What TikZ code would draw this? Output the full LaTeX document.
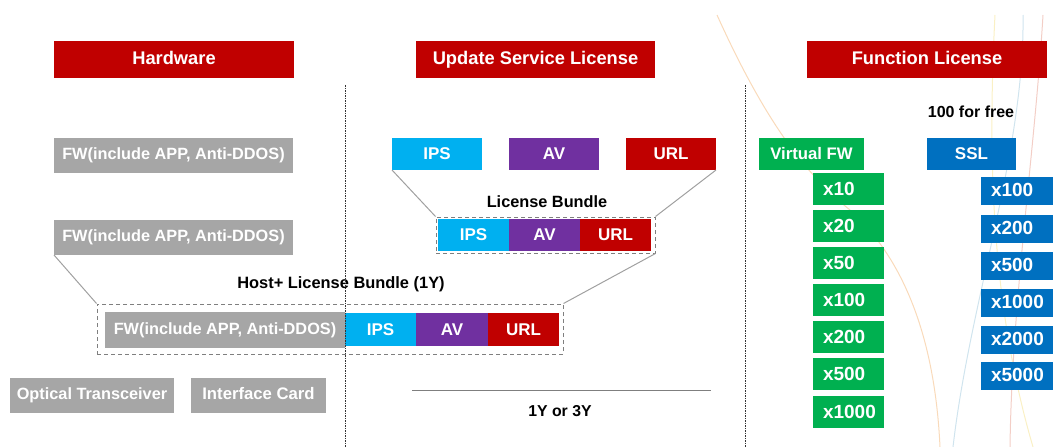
\documentclass[tikz,border=0pt]{standalone}
\usepackage{fontspec}
\setmainfont{Liberation Sans}
\definecolor{hdrred}{HTML}{C00000}
\definecolor{ipsc}{HTML}{00B0F0}
\definecolor{avc}{HTML}{7030A0}
\definecolor{urlc}{HTML}{C00000}
\definecolor{grn}{HTML}{00B050}
\definecolor{blu}{HTML}{0070C0}
\definecolor{gry}{HTML}{A6A6A6}
\definecolor{lnc}{HTML}{A0A0A0}
\definecolor{dshc}{HTML}{7F7F7F}
\newcommand{\fs}[1]{\bfseries\fontsize{#1}{#1}\selectfont}
\tikzset{
  cell/.style={inner sep=0pt, outer sep=0pt, text=white},
  hdr/.style={cell, fill=hdrred, minimum width=240pt, minimum height=37pt, font=\fs{18.3}, text height=13.2pt, text depth=3.8pt},
  fwbox/.style={cell, fill=gry, minimum height=35pt, font=\fs{16.3}, text height=12pt, text depth=3.5pt},
  svc/.style={cell, minimum width=90pt, minimum height=32pt, font=\fs{17}},
  svcs/.style={cell, minimum width=71pt, minimum height=32pt, font=\fs{17}},
  gcell/.style={cell, fill=grn, minimum height=32pt, inner xsep=10pt, text width=51pt, align=left, font=\fs{19}},
  bcell/.style={cell, fill=blu, minimum height=28pt, inner xsep=10pt, text width=52pt, align=left, font=\fs{19}, text height=11pt, text depth=0pt},
  lbl/.style={inner sep=0pt, text=black},
  conn/.style={draw=lnc, line width=1pt},
  dbox/.style={draw=dshc, line width=1pt, dash pattern=on 4pt off 3pt},
  vsep/.style={draw=black!80, line width=1pt, dash pattern=on 1.5pt off 1pt},
  deco/.style={line width=1pt}
}
\begin{document}
\begin{tikzpicture}[x=1pt, y=-1pt]
\useasboundingbox (0,0) rectangle (1053,447);
% faint background curves
\draw[deco, draw={rgb,255:red,249;green,218;blue,186}] (717,15) .. controls (760,110) and (800,170) .. (850,210) .. controls (905,260) and (935,340) .. (940,447);
\draw[deco, draw={rgb,255:red,250;green,240;blue,196}] (995,15) .. controls (988,150) and (990,300) .. (1033,447);
\draw[deco, draw={rgb,255:red,208;green,228;blue,238}] (1023,15) .. controls (1025,150) and (970,300) .. (953,447);
\draw[deco, draw={rgb,255:red,243;green,206;blue,198}] (1043,15) .. controls (1035,150) and (1012,300) .. (1010,447);

% headers
\node[hdr] (hw) at (174,59.5) {Hardware};
\node[hdr, minimum width=239pt] (usl) at (535.5,59.5) {Update Service License};
\node[hdr] (fl) at (927,59.5) {Function License};

% hardware column
\node[fwbox, minimum width=239pt] (fw1) at (173.5,155.5) {FW(include APP, Anti-DDOS)};
\node[fwbox, minimum width=239pt] (fw2) at (173.5,237.5) {FW(include APP, Anti-DDOS)};
\node[fwbox, minimum width=164pt, font=\fs{16.3}] (opt) at (92,395.5) {Optical Transceiver};
\node[fwbox, minimum width=135pt, font=\fs{16.7}] (ifc) at (258.5,395.5) {Interface Card};

% update service licenses
\node[svc, fill=ipsc] (ips1) at (437,154) {IPS};
\node[svc, fill=avc] (av1) at (554,154) {AV};
\node[svc, fill=urlc] (url1) at (671,154) {URL};

\node[lbl, font=\fs{16.3}] (lbt) at (547,202) {License Bundle};
\node[dbox, inner sep=0pt, minimum width=219pt, minimum height=36pt] (lb) at (545.5,235) {};
\node[svcs, fill=ipsc] (ips2) at (473.5,235) {IPS};
\node[svcs, fill=avc] (av2) at (544.5,235) {AV};
\node[svcs, fill=urlc] (url2) at (615.5,235) {URL};

% host bundle
\node[lbl, font=\fs{16.4}] (hbt) at (341,284) {Host+ License Bundle (1Y)};
\node[dbox, inner sep=0pt, minimum width=466pt, minimum height=50pt] (hb) at (330,329) {};
\node[fwbox, minimum width=240pt, minimum height=36pt] (fw3) at (225,330) {FW(include APP, Anti-DDOS)};
\node[svcs, fill=ipsc, minimum height=33pt] (ips3) at (380.5,329.5) {IPS};
\node[svcs, fill=avc, minimum width=72pt, minimum height=33pt] (av3) at (452,329.5) {AV};
\node[svcs, fill=urlc, minimum height=33pt] (url3) at (523.5,329.5) {URL};

% connectors
\draw[conn] (ips1.south west) -- (lb.north west);
\draw[conn] (url1.south east) -- (lb.north east);
\draw[conn] (lb.south east) -- (hb.north east);
\draw[conn] (fw2.south west) -- (hb.north west);

% term line
\coordinate (tl1) at (412,390);
\coordinate (tl2) at (711,390);
\draw[draw=dshc, line width=1pt] (tl1) -- (tl2);
\node[lbl, font=\fs{15.8}] (term) at (560,411) {1Y or 3Y};

% function licenses
\node[lbl, font=\fs{16}] (free) at (971,112) {100 for free};
\node[cell, fill=grn, minimum width=105pt, minimum height=32pt, font=\fs{16.7}] (vfw) at (811.5,154) {Virtual FW};
\node[cell, fill=blu, minimum width=89pt, minimum height=32pt, font=\fs{17}] (ssl) at (971.5,154) {SSL};

\node[gcell] (g1) at (848.5,189) {x10};
\node[gcell] (g2) at (848.5,226) {x20};
\node[gcell] (g3) at (848.5,263) {x50};
\node[gcell] (g4) at (848.5,300) {x100};
\node[gcell] (g5) at (848.5,337) {x200};
\node[gcell] (g6) at (848.5,374) {x500};
\node[gcell] (g7) at (848.5,412) {x1000};

\node[bcell] (b1) at (1017,191) {x100};
\node[bcell] (b2) at (1017,228.5) {x200};
\node[bcell] (b3) at (1017,265.5) {x500};
\node[bcell] (b4) at (1017,302.5) {x1000};
\node[bcell] (b5) at (1017,339.5) {x2000};
\node[bcell] (b6) at (1017,376) {x5000};

% column separators
\coordinate (s1t) at (345,85);
\coordinate (s1b) at (345,447);
\coordinate (s2t) at (745,85);
\coordinate (s2b) at (745,447);
\draw[vsep] (s1t) -- (s1b);
\draw[vsep] (s2t) -- (s2b);
\end{tikzpicture}
\end{document}
